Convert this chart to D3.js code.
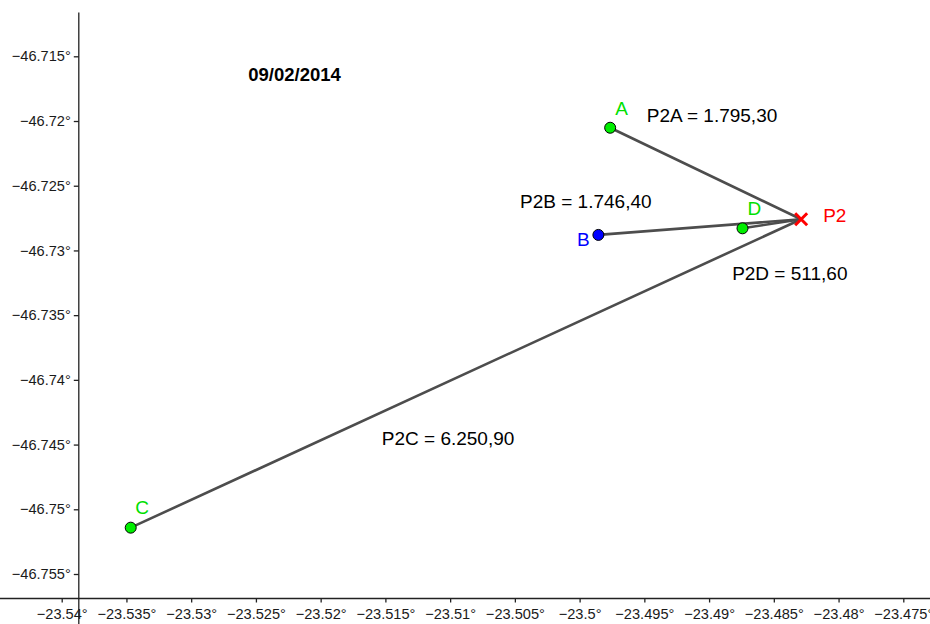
<!DOCTYPE html>
<html>
<head>
<meta charset="utf-8">
<script src="https://cdn.jsdelivr.net/npm/d3@7"></script>
<style>
  html, body { margin: 0; padding: 0; background: #fff; }
  svg { display: block; font-family: "Liberation Sans", Arial, sans-serif; }
</style>
</head>
<body>
<svg id="chart" width="930" height="624"></svg>
<script>
// ---- data ----
const pointNames = ["A", "B", "C", "D"];
const pointLon   = [-23.49764, -23.49855, -23.53467, -23.48742];
const pointLat   = [-46.72052, -46.72880, -46.75142, -46.72829];
const pointKind  = ["green", "blue", "green", "green"];

const hubName = "P2";
const hubLon = -23.48289;
const hubLat = -46.72759;

const distLabels = ["P2A = 1.795,30", "P2B = 1.746,40", "P2C = 6.250,90", "P2D = 511,60"];
const distLon    = [-23.49481, -23.50460, -23.51528, -23.48822];
const distLat    = [-46.72005, -46.72674, -46.74503, -46.73228];

const dateText = "09/02/2014";
const dateLon = -23.52559;
const dateLat = -46.71691;

const xTicks = [-23.54, -23.535, -23.53, -23.525, -23.52, -23.515, -23.51, -23.505,
                -23.5, -23.495, -23.49, -23.485, -23.48, -23.475];
const yTicks = [-46.715, -46.72, -46.725, -46.73, -46.735, -46.74, -46.745, -46.75, -46.755];

// ---- layout / style ----
const W = 930, H = 624;
const colors = { green: "#00ee00", blue: "#0000ff" };
const labelColors = { green: "#00e000", blue: "#0000ff" };
const labelOffsets = { A: [5, -12.5], B: [-21.5, 11], C: [4.5, -13.5], D: [5, -13] };
const FS = 19;
const TFS = 14.6;

const svg = d3.select("#chart");

const x = d3.scaleLinear().domain([-23.54, -23.475]).range([61.7, 903.3]);
const y = d3.scaleLinear().domain([-46.715, -46.755]).range([56.3, 574]);

const axisY = 598.5;   // pixel row of the horizontal axis
const axisX = 78.8;    // pixel column of the vertical axis

const fmt = v => (v < 0 ? "\u2212" : "") + String(+Math.abs(v).toFixed(3)) + "\u00B0";

// x axis
const gx = svg.append("g").attr("transform", `translate(0,${axisY})`)
  .call(d3.axisBottom(x).tickValues(xTicks).tickFormat(fmt).tickSize(4).tickPadding(6).tickSizeOuter(0));
gx.select(".domain").remove();
gx.append("line").attr("x1", 0).attr("x2", W).attr("y1", 0).attr("y2", 0)
  .attr("stroke", "#222").attr("stroke-width", 1.3);
gx.selectAll(".tick line").attr("stroke", "#222").attr("stroke-width", 1.3);
gx.selectAll(".tick text").attr("fill", "#1a1a1a").attr("font-size", TFS)
  .attr("font-family", "Liberation Sans, Arial, sans-serif");

// y axis
const gy = svg.append("g").attr("transform", `translate(${axisX},0)`)
  .call(d3.axisLeft(y).tickValues(yTicks).tickFormat(fmt).tickSize(5).tickPadding(3).tickSizeOuter(0));
gy.select(".domain").remove();
gy.append("line").attr("x1", 0).attr("x2", 0).attr("y1", 12.5).attr("y2", H)
  .attr("stroke", "#222").attr("stroke-width", 1.3);
gy.selectAll(".tick line").attr("stroke", "#222").attr("stroke-width", 1.3);
gy.selectAll(".tick text").attr("fill", "#1a1a1a").attr("font-size", TFS)
  .attr("font-family", "Liberation Sans, Arial, sans-serif");

// points
const pts = pointNames.map((n, i) => ({ name: n, lon: pointLon[i], lat: pointLat[i], kind: pointKind[i] }));

// segments from hub to each point
svg.append("g").selectAll("line").data(pts).join("line")
  .attr("x1", x(hubLon)).attr("y1", y(hubLat))
  .attr("x2", d => x(d.lon)).attr("y2", d => y(d.lat))
  .attr("stroke", "#4d4d4d").attr("stroke-width", 2.6).attr("stroke-linecap", "round");

// point markers
svg.append("g").selectAll("circle").data(pts).join("circle")
  .attr("cx", d => x(d.lon)).attr("cy", d => y(d.lat)).attr("r", 5.5)
  .attr("fill", d => colors[d.kind]).attr("stroke", "#000").attr("stroke-width", 1);

// point labels
svg.append("g").selectAll("text").data(pts).join("text")
  .attr("x", d => x(d.lon) + labelOffsets[d.name][0])
  .attr("y", d => y(d.lat) + labelOffsets[d.name][1])
  .attr("fill", d => labelColors[d.kind]).attr("font-size", FS)
  .text(d => d.name);

// hub cross
const hx = x(hubLon), hy = y(hubLat), s = 6;
svg.append("path")
  .attr("d", `M${hx - s},${hy - s}L${hx + s},${hy + s}M${hx - s},${hy + s}L${hx + s},${hy - s}`)
  .attr("stroke", "#ff0000").attr("stroke-width", 3).attr("fill", "none");
svg.append("text").attr("x", hx + 22).attr("y", hy + 2.5)
  .attr("fill", "#ff0000").attr("font-size", FS).text(hubName);

// distance annotations
svg.append("g").selectAll("text").data(distLabels).join("text")
  .attr("x", (d, i) => x(distLon[i])).attr("y", (d, i) => y(distLat[i]))
  .attr("fill", "#000").attr("font-size", FS)
  .text(d => d);

// date
svg.append("text").attr("x", x(dateLon)).attr("y", y(dateLat))
  .attr("fill", "#000").attr("font-size", 18.5).attr("font-weight", "bold")
  .text(dateText);
</script>
</body>
</html>
